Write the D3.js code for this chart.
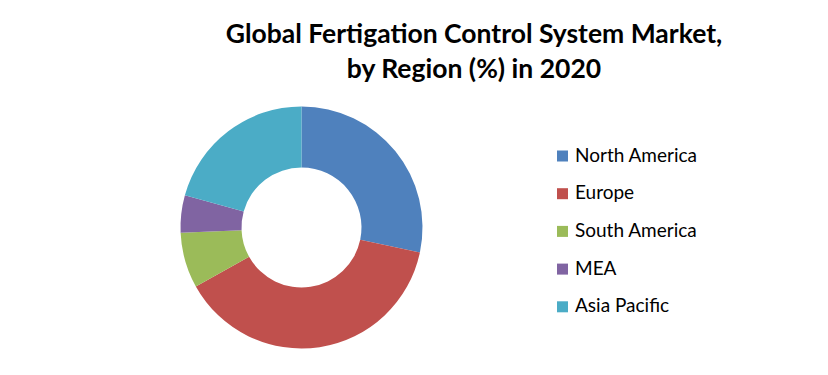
<!DOCTYPE html>
<html>
<head>
<meta charset="utf-8">
<script src="https://cdn.jsdelivr.net/npm/d3@7"></script>
<style>
  body { margin: 0; background: #fff; }
  svg { display: block; font-family: Lato, "Open Sans", sans-serif; }
</style>
</head>
<body>
<div id="chart"></div>
<script>
const regions = ["North America", "Europe", "South America", "MEA", "Asia Pacific"];
const shares = [28.3, 38.6, 7.4, 5.0, 20.7];
const sliceColors = ["#4F81BD", "#C0504D", "#9BBB59", "#8064A2", "#4BACC6"];
const titleLines = ["Global Fertigation Control System Market,", "by Region (%) in 2020"];

const width = 828;
const height = 375;
const cx = 301.5;
const cy = 227.5;
const outerR = 121;
const innerR = 60;

const svg = d3.select("#chart")
    .append("svg")
    .attr("width", width)
    .attr("height", height);

svg.selectAll("text.title")
    .data(titleLines)
    .enter()
    .append("text")
    .attr("class", "title")
    .attr("x", 474)
    .attr("y", (d, i) => 43 + i * 35)
    .attr("text-anchor", "middle")
    .attr("font-size", 26.5)
    .attr("font-weight", "bold")
    .attr("fill", "#000")
    .text(d => d);

const color = d3.scaleOrdinal().domain(regions).range(sliceColors);

const pie = d3.pie()
    .value(d => d.value)
    .sort(null);

const arc = d3.arc()
    .innerRadius(innerR)
    .outerRadius(outerR);

const data = regions.map((r, i) => ({ name: r, value: shares[i] }));

svg.append("g")
    .attr("transform", `translate(${cx},${cy})`)
    .selectAll("path")
    .data(pie(data))
    .enter()
    .append("path")
    .attr("d", arc)
    .attr("fill", d => color(d.data.name));

// legend rows, y is the text baseline
const legend = svg.append("g")
    .attr("transform", "translate(557,161.5)");

const rowGap = 37.7;

legend.selectAll("rect")
    .data(regions)
    .enter()
    .append("rect")
    .attr("x", 0)
    .attr("y", (d, i) => i * rowGap - 11)
    .attr("width", 11)
    .attr("height", 11)
    .attr("fill", d => color(d));

legend.selectAll("text")
    .data(regions)
    .enter()
    .append("text")
    .attr("x", 18)
    .attr("y", (d, i) => i * rowGap)
    .attr("font-size", 19)
    .attr("fill", "#000")
    .text(d => d);
</script>
</body>
</html>
